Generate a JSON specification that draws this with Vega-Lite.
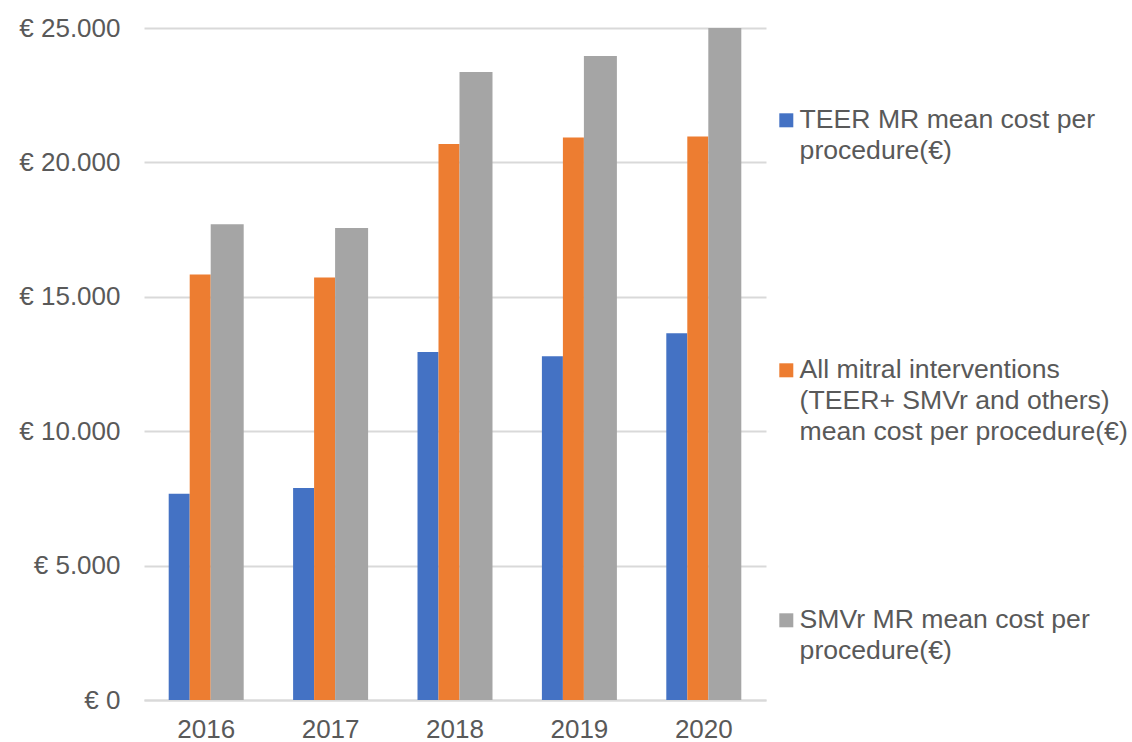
{
  "$schema": "https://vega.github.io/schema/vega-lite/v6.json",
  "width": 622,
  "height": 672,
  "autosize": {"type": "none"},
  "padding": {"left": 144, "top": 28, "right": 366, "bottom": 42},
  "background": "white",
  "config": {
    "view": {"stroke": null},
    "font": "Liberation Sans",
    "style": {"guide-label": {"lineHeight": 31}}
  },
  "data": {
    "values": [
      {"year": "2016", "series": "TEER MR mean cost per procedure(€)", "cost": 7670},
      {"year": "2016", "series": "All mitral interventions (TEER+ SMVr and others) mean cost per procedure(€)", "cost": 15830},
      {"year": "2016", "series": "SMVr MR mean cost per procedure(€)", "cost": 17700},
      {"year": "2017", "series": "TEER MR mean cost per procedure(€)", "cost": 7890},
      {"year": "2017", "series": "All mitral interventions (TEER+ SMVr and others) mean cost per procedure(€)", "cost": 15720},
      {"year": "2017", "series": "SMVr MR mean cost per procedure(€)", "cost": 17560},
      {"year": "2018", "series": "TEER MR mean cost per procedure(€)", "cost": 12950},
      {"year": "2018", "series": "All mitral interventions (TEER+ SMVr and others) mean cost per procedure(€)", "cost": 20680},
      {"year": "2018", "series": "SMVr MR mean cost per procedure(€)", "cost": 23360},
      {"year": "2019", "series": "TEER MR mean cost per procedure(€)", "cost": 12790},
      {"year": "2019", "series": "All mitral interventions (TEER+ SMVr and others) mean cost per procedure(€)", "cost": 20930},
      {"year": "2019", "series": "SMVr MR mean cost per procedure(€)", "cost": 23960},
      {"year": "2020", "series": "TEER MR mean cost per procedure(€)", "cost": 13640},
      {"year": "2020", "series": "All mitral interventions (TEER+ SMVr and others) mean cost per procedure(€)", "cost": 20960},
      {"year": "2020", "series": "SMVr MR mean cost per procedure(€)", "cost": 25000}
    ]
  },
  "encoding": {
    "x": {
      "field": "year",
      "type": "ordinal",
      "scale": {"paddingInner": 0, "paddingOuter": 0},
      "axis": {
        "title": null,
        "labelAngle": 0,
        "domain": true,
        "domainColor": "#d9d9d9",
        "domainWidth": 2,
        "ticks": false,
        "labelPadding": 16,
        "labelFontSize": 26,
        "labelColor": "#595959"
      }
    },
    "y": {
      "field": "cost",
      "type": "quantitative",
      "scale": {"domain": [0, 25000], "nice": false},
      "axis": {
        "title": null,
        "values": [0, 5000, 10000, 15000, 20000, 25000],
        "labelExpr": "'€ ' + replace(format(datum.value, ','), ',', '.')",
        "domain": false,
        "ticks": false,
        "labelPadding": 24,
        "labelFontSize": 26,
        "labelColor": "#595959",
        "grid": true,
        "gridColor": "#d9d9d9",
        "gridWidth": 2
      }
    },
    "color": {
      "field": "series",
      "type": "nominal",
      "scale": {
        "domain": [
          "TEER MR mean cost per procedure(€)",
          "All mitral interventions (TEER+ SMVr and others) mean cost per procedure(€)",
          "SMVr MR mean cost per procedure(€)"
        ],
        "range": ["#4472C4", "#ED7D31", "#A5A5A5"]
      },
      "legend": {
        "title": null,
        "orient": "none",
        "legendX": 629,
        "legendY": 79,
        "padding": 0,
        "symbolType": "square",
        "symbolSize": 196,
        "symbolStrokeWidth": 0,
        "labelFontSize": 26.6,
        "labelColor": "#595959",
        "labelLimit": 400,
        "labelOffset": 0,
        "rowPadding": 161,
        "labelExpr": "datum.value == 'TEER MR mean cost per procedure(€)' ? ['TEER MR mean cost per', 'procedure(€)', ''] : datum.value == 'SMVr MR mean cost per procedure(€)' ? ['SMVr MR mean cost per', 'procedure(€)'] : ['All mitral interventions', '(TEER+ SMVr and others)', 'mean cost per procedure(€)']"
      }
    }
  },
  "layer": [
    {
      "transform": [{"filter": "datum.series == 'TEER MR mean cost per procedure(€)'"}],
      "mark": {"type": "bar", "width": 21, "xOffset": -27}
    },
    {
      "transform": [{"filter": "datum.series == 'All mitral interventions (TEER+ SMVr and others) mean cost per procedure(€)'"}],
      "mark": {"type": "bar", "width": 21, "xOffset": -6}
    },
    {
      "transform": [{"filter": "datum.series == 'SMVr MR mean cost per procedure(€)'"}],
      "mark": {"type": "bar", "width": 33, "xOffset": 21}
    }
  ]
}
